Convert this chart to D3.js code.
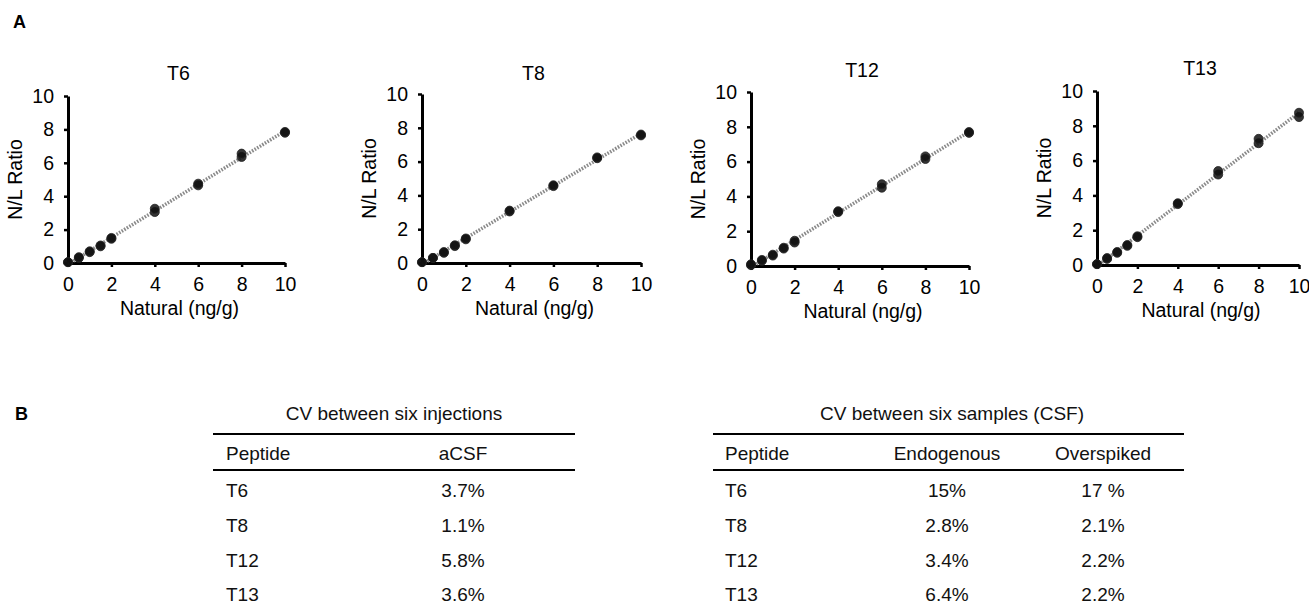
<!DOCTYPE html>
<html>
<head>
<meta charset="utf-8">
<script src="https://cdn.jsdelivr.net/npm/d3@7"></script>
<style>
  html, body { margin: 0; padding: 0; background: #fff; }
  svg { display: block; font-family: "Liberation Sans", Arial, sans-serif; }
</style>
</head>
<body>
<svg id="chart" width="1309" height="608"></svg>
<script>
// ---------- DATA ----------
const peptides = ["T6", "T8", "T12", "T13"];
const concentrations = [0, 0.5, 1, 1.5, 2, 4, 6, 8, 10];
const t6Rep1 = [0.05, 0.30, 0.65, 1.00, 1.45, 3.05, 4.65, 6.35, 7.80];
const t6Rep2 = [0.05, 0.35, 0.70, 1.05, 1.50, 3.25, 4.75, 6.55, 7.85];
const t8Rep1 = [0.05, 0.30, 0.60, 1.00, 1.40, 3.05, 4.55, 6.20, 7.55];
const t8Rep2 = [0.05, 0.30, 0.65, 1.05, 1.45, 3.10, 4.60, 6.25, 7.60];
const t12Rep1 = [0.05, 0.30, 0.60, 1.00, 1.35, 3.10, 4.50, 6.15, 7.65];
const t12Rep2 = [0.10, 0.35, 0.65, 1.05, 1.45, 3.15, 4.70, 6.30, 7.70];
const t13Rep1 = [0.05, 0.35, 0.70, 1.10, 1.60, 3.50, 5.20, 7.00, 8.50];
const t13Rep2 = [0.05, 0.40, 0.75, 1.15, 1.65, 3.55, 5.40, 7.25, 8.75];
const xTicks = [0, 2, 4, 6, 8, 10];
const yTicks = [0, 2, 4, 6, 8, 10];
const xAxisTitle = "Natural (ng/g)";
const yAxisTitle = "N/L Ratio";

const tableAHeader = ["Peptide", "aCSF"];
const tableATitle = "CV between six injections";
const tableAValues = ["3.7%", "1.1%", "5.8%", "3.6%"];
const tableBTitle = "CV between six samples (CSF)";
const tableBHeader = ["Peptide", "Endogenous", "Overspiked"];
const tableBEndogenous = ["15%", "2.8%", "3.4%", "6.4%"];
const tableBOverspiked = ["17 %", "2.1%", "2.2%", "2.2%"];

const replicates = [[t6Rep1, t6Rep2], [t8Rep1, t8Rep2], [t12Rep1, t12Rep2], [t13Rep1, t13Rep2]];

// ---------- LAYOUT ----------
const panels = [
  { x0: 68,   x1: 285,  yTop: 96, yBot: 263, titleY: 73 },
  { x0: 422,  x1: 641,  yTop: 94, yBot: 263, titleY: 73 },
  { x0: 751,  x1: 969,  yTop: 92, yBot: 266, titleY: 70 },
  { x0: 1097, x1: 1299, yTop: 91, yBot: 265, titleY: 68 }
];

const svg = d3.select("#chart");
const axisFont = 19.5;
const tableFont = 19;

svg.append("text").attr("x", 13).attr("y", 28).attr("font-size", 18)
  .attr("font-weight", "bold").text("A");
svg.append("text").attr("x", 15).attr("y", 420).attr("font-size", 18)
  .attr("font-weight", "bold").text("B");

peptides.forEach((name, i) => {
  const p = panels[i];
  const x = d3.scaleLinear().domain([0, 10]).range([p.x0, p.x1]);
  const y = d3.scaleLinear().domain([0, 10]).range([p.yBot, p.yTop]);
  const g = svg.append("g");

  // title
  g.append("text").attr("x", (p.x0 + p.x1) / 2 + 2).attr("y", p.titleY + 7)
    .attr("text-anchor", "middle").attr("font-size", axisFont).text(name);

  // axes
  const xAxis = g.append("g").attr("transform", `translate(0,${p.yBot})`)
    .call(d3.axisBottom(x).tickValues(xTicks).tickSize(4).tickPadding(10).tickSizeOuter(0));
  const yAxis = g.append("g").attr("transform", `translate(${p.x0},0)`)
    .call(d3.axisLeft(y).tickValues(yTicks).tickSize(4).tickPadding(10).tickSizeOuter(0));
  [xAxis, yAxis].forEach(a => {
    a.attr("font-size", axisFont).attr("font-family", "Liberation Sans, Arial, sans-serif");
    a.select(".domain").attr("stroke", "#000").attr("stroke-width", 3);
    a.selectAll(".tick line").attr("stroke", "#000").attr("stroke-width", 2.5);
    a.selectAll(".tick text").attr("fill", "#000");
  });

  // axis titles
  g.append("text").attr("x", (p.x0 + p.x1) / 2 + 3).attr("y", p.yBot + 52)
    .attr("text-anchor", "middle").attr("font-size", axisFont).text(xAxisTitle);
  g.append("text")
    .attr("transform", `translate(${p.x0 - 46},${(p.yTop + p.yBot) / 2}) rotate(-90)`)
    .attr("text-anchor", "middle").attr("font-size", axisFont).text(yAxisTitle);

  // points data
  const pts = [];
  replicates[i].forEach(rep => rep.forEach((v, k) => pts.push([concentrations[k], v])));

  // linear fit through the replicate points
  const mx = d3.mean(pts, d => d[0]), my = d3.mean(pts, d => d[1]);
  const slope = d3.sum(pts, d => (d[0] - mx) * (d[1] - my)) / d3.sum(pts, d => (d[0] - mx) ** 2);
  const icpt = my - slope * mx;
  const fit = [0, 10].map(c => [c, icpt + slope * c]);
  g.append("path").datum(fit)
    .attr("d", d3.line().x(d => x(d[0])).y(d => y(d[1])))
    .attr("fill", "none").attr("stroke", "#8a8a8a").attr("stroke-width", 3.5)
    .attr("stroke-dasharray", "1.6,1.4");

  g.selectAll("circle.pt").data(pts).enter().append("circle")
    .attr("class", "pt")
    .attr("cx", d => x(d[0])).attr("cy", d => y(d[1])).attr("r", 4.5)
    .attr("fill", "#111").attr("fill-opacity", 0.85)
    .attr("stroke", "#222").attr("stroke-width", 0.8);
});

// ---------- TABLES ----------
const rowY = [490, 525, 560, 594];
function rule(x1, x2, yy) {
  svg.append("line").attr("x1", x1).attr("x2", x2).attr("y1", yy).attr("y2", yy)
    .attr("stroke", "#000").attr("stroke-width", 1.8);
}
function txt(xx, yy, s, anchor) {
  svg.append("text").attr("x", xx).attr("y", yy + 7).attr("text-anchor", anchor || "start")
    .attr("font-size", tableFont).attr("fill", "#111").text(s);
}

// Table A
const aL = 213, aR = 575;
txt(394, 413, tableATitle, "middle");
rule(aL, aR, 434);
rule(aL, aR, 470);
txt(226, 453, tableAHeader[0]);
txt(463, 453, tableAHeader[1], "middle");
peptides.forEach((pp, k) => {
  txt(226, rowY[k], pp);
  txt(463, rowY[k], tableAValues[k], "middle");
});

// Table B
const bL = 713, bR = 1184;
txt(952, 413, tableBTitle, "middle");
rule(bL, bR, 434);
rule(bL, bR, 470);
txt(725, 453, tableBHeader[0]);
txt(947, 453, tableBHeader[1], "middle");
txt(1103, 453, tableBHeader[2], "middle");
peptides.forEach((pp, k) => {
  txt(725, rowY[k], pp);
  txt(947, rowY[k], tableBEndogenous[k], "middle");
  txt(1103, rowY[k], tableBOverspiked[k], "middle");
});
</script>
</body>
</html>
